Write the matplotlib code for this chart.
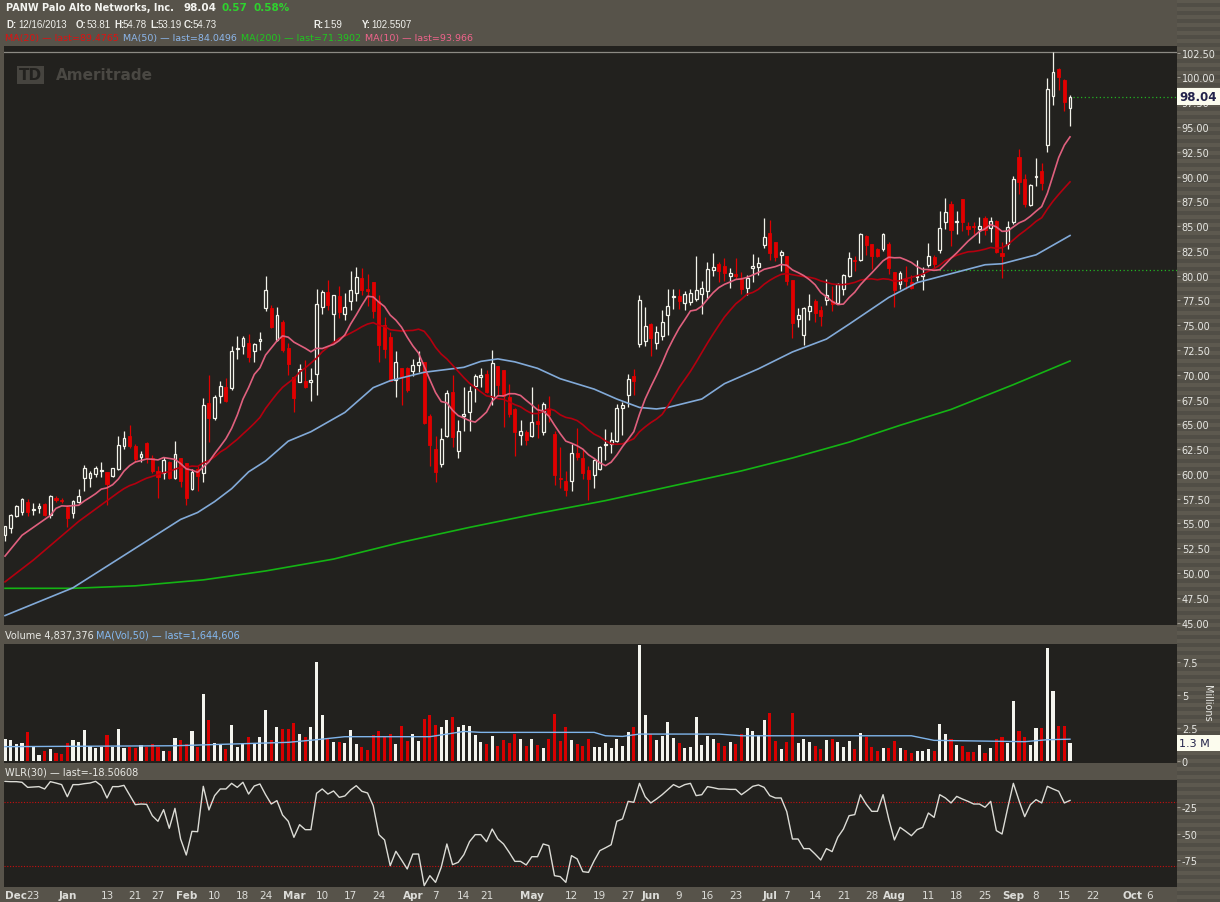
import numpy as np
import pandas as pd
import matplotlib
matplotlib.use('Agg')
import matplotlib.pyplot as plt
from matplotlib.patches import Rectangle

W, H = 1220, 903

# trading sessions (data runs 12/16/2013 .. 9/16/2014, axis continues into October)
holidays = ['2013-12-25', '2014-01-01', '2014-01-20', '2014-02-17', '2014-04-18',
            '2014-05-26', '2014-07-04', '2014-09-01']
sessions = pd.bdate_range('2013-12-16', '2014-10-10')
sessions = sessions[~sessions.isin(pd.to_datetime(holidays))]

opens = [53.81, 54.5, 55.7, 56.2, 57.2, 56.4, 56.55, 57.0, 55.8, 57.55,
         57.4, 56.7, 56.05, 57.2, 59.55, 59.55, 60.0, 60.25, 60.15, 59.75,
         60.5, 62.85, 63.8, 62.8, 61.75, 63.1, 61.55, 60.25, 60.05, 61.15,
         59.6, 61.55, 61.1, 58.45, 60.5, 60.1, 67.15, 65.65, 67.9, 68.75,
         68.65, 72.55, 72.95, 73.25, 72.35, 73.4, 76.7, 76.7, 73.5, 75.3,
         72.65, 69.8, 69.3, 69.35, 69.25, 70.1, 76.8, 78.4, 76.15, 77.9,
         76.15, 77.45, 78.2, 79.75, 78.65, 79.4, 77.45, 75.0, 73.85, 69.5,
         70.7, 70.7, 70.4, 71.0, 71.25, 65.85, 62.5, 60.95, 63.8, 68.25,
         62.3, 65.85, 66.2, 68.9, 69.75, 70.1, 67.8, 70.85, 70.5, 67.8,
         66.55, 63.95, 64.25, 63.85, 65.3, 64.2, 66.55, 64.0, 59.55, 59.25,
         59.3, 62.15, 61.6, 60.4, 59.9, 60.5, 62.9, 63.0, 63.35, 66.6,
         68.0, 69.9, 73.1, 73.45, 75.1, 73.25, 73.9, 76.05, 77.8, 77.9,
         77.2, 77.3, 77.65, 78.15, 78.5, 80.6, 81.2, 81.0, 80.0, 80.15,
         79.65, 78.75, 80.8, 80.85, 83.1, 84.3, 83.35, 82.1, 81.95, 79.55,
         75.65, 74.05, 76.4, 77.4, 76.55, 77.55, 77.45, 77.25, 78.7, 80.0,
         81.6, 81.6, 84.05, 83.2, 82.7, 82.65, 83.2, 80.35, 79.15, 79.7,
         79.35, 79.9, 79.95, 81.1, 81.85, 82.6, 85.45, 87.25, 85.45, 87.75,
         85.05, 85.05, 84.7, 85.8, 84.8, 85.55, 82.25, 83.2, 85.4, 91.95,
         89.8, 87.15, 90.0, 90.55, 93.2, 98.15, 100.9, 99.75, 96.95]
highs = [54.78, 55.95, 56.9, 57.55, 57.45, 57.1, 57.05, 57.1, 57.85, 57.8,
         57.55, 56.85, 57.4, 58.45, 60.9, 60.25, 60.8, 61.15, 60.2, 60.6,
         63.85, 64.3, 64.95, 63.0, 62.3, 63.2, 61.9, 60.75, 61.75, 61.25,
         63.3, 61.6, 61.1, 60.5, 60.8, 67.7, 70.0, 67.95, 69.35, 69.65,
         72.9, 73.9, 73.95, 74.1, 73.25, 74.3, 80.0, 77.05, 76.8, 75.5,
         73.25, 69.9, 71.1, 71.5, 70.7, 78.65, 78.6, 79.55, 78.0, 79.0,
         78.2, 80.5, 80.9, 80.75, 80.15, 79.4, 78.0, 75.8, 74.3, 72.35,
         70.7, 70.8, 71.6, 72.35, 71.3, 66.05, 63.85, 64.6, 68.5, 69.95,
         65.45, 68.8, 68.9, 70.1, 70.65, 70.5, 72.5, 70.9, 70.5, 69.05,
         66.6, 65.45, 64.4, 68.8, 67.0, 67.2, 67.9, 64.35, 62.7, 60.3,
         63.0, 64.6, 62.4, 60.75, 61.5, 62.85, 64.55, 64.2, 67.05, 67.25,
         70.1, 70.6, 78.05, 76.8, 75.2, 74.95, 76.55, 78.7, 78.7, 78.65,
         78.5, 78.7, 81.95, 79.5, 81.35, 82.3, 81.4, 81.75, 80.75, 81.75,
         80.4, 80.05, 82.2, 81.85, 85.8, 85.6, 83.4, 82.55, 82.0, 79.6,
         76.7, 76.8, 78.1, 77.65, 76.95, 79.65, 79.0, 79.25, 80.15, 82.4,
         82.0, 84.35, 84.1, 83.2, 82.75, 84.35, 83.35, 80.35, 80.5, 80.95,
         80.1, 81.6, 80.85, 83.25, 82.1, 86.5, 87.85, 87.5, 86.55, 87.75,
         85.45, 85.45, 85.95, 86.0, 85.9, 85.6, 83.35, 85.5, 90.1, 92.8,
         90.3, 89.25, 91.85, 91.35, 99.9, 102.55, 100.95, 99.8, 98.2]
lows = [53.19, 54.0, 55.6, 55.85, 55.7, 55.8, 56.05, 55.7, 55.5, 57.2,
        57.1, 54.6, 55.55, 57.1, 58.3, 58.65, 59.65, 59.65, 56.9, 59.7,
        60.4, 62.5, 62.6, 61.2, 61.15, 61.05, 60.05, 57.55, 59.5, 59.5,
        59.5, 58.7, 56.9, 58.35, 58.3, 59.2, 63.25, 65.45, 67.1, 67.2,
        68.5, 71.6, 72.1, 71.3, 71.25, 72.45, 76.45, 74.7, 73.45, 72.25,
        70.0, 66.25, 69.25, 68.65, 67.4, 68.0, 76.15, 76.55, 73.3, 75.75,
        75.5, 76.55, 77.45, 78.0, 76.95, 75.7, 71.25, 71.65, 69.4, 67.8,
        66.9, 68.3, 69.85, 70.3, 65.0, 60.75, 59.15, 60.65, 63.7, 62.75,
        61.6, 64.35, 64.35, 67.2, 68.75, 68.15, 66.9, 67.9, 64.7, 65.7,
        61.85, 62.95, 62.9, 63.7, 63.6, 63.95, 65.2, 58.9, 58.55, 57.8,
        58.3, 61.35, 59.5, 57.4, 58.55, 60.4, 61.35, 62.1, 63.25, 63.9,
        66.7, 68.0, 72.85, 72.95, 71.9, 72.55, 73.5, 74.0, 76.65, 76.65,
        76.55, 77.0, 77.45, 76.15, 77.75, 80.0, 79.4, 79.5, 78.8, 79.65,
        78.15, 78.0, 79.4, 80.05, 82.8, 81.6, 81.45, 80.45, 79.1, 73.7,
        74.8, 73.05, 75.55, 75.35, 74.95, 77.05, 76.45, 77.15, 78.0, 79.85,
        80.5, 81.45, 82.1, 80.65, 81.9, 82.45, 80.15, 76.8, 78.65, 78.65,
        78.65, 79.5, 78.6, 80.85, 80.65, 82.3, 84.7, 83.0, 84.2, 84.55,
        84.1, 84.2, 83.25, 84.1, 83.35, 82.3, 79.75, 82.65, 85.2, 88.25,
        86.9, 87.05, 89.0, 88.65, 92.5, 97.25, 98.75, 96.65, 95.15]
closes = [54.73, 55.85, 56.75, 57.45, 56.2, 56.5, 56.8, 55.8, 57.75, 57.35,
          57.25, 55.55, 57.3, 57.8, 60.55, 60.05, 60.6, 60.4, 59.0, 60.55,
          62.9, 63.6, 62.85, 61.45, 62.0, 61.7, 60.3, 59.7, 61.4, 59.6,
          62.05, 59.3, 57.55, 60.15, 59.8, 66.95, 65.65, 67.8, 68.85, 67.4,
          72.4, 72.7, 73.7, 71.8, 73.1, 73.6, 78.55, 74.85, 76.0, 72.5,
          71.1, 67.7, 70.6, 68.75, 69.5, 77.15, 78.3, 77.05, 78.0, 76.35,
          76.85, 78.55, 79.85, 78.6, 78.5, 76.45, 73.05, 72.6, 69.4, 71.25,
          69.75, 68.5, 71.0, 71.3, 65.15, 62.95, 60.15, 63.5, 68.15, 63.75,
          64.3, 66.05, 68.35, 69.85, 69.95, 68.3, 71.15, 69.0, 67.9, 66.05,
          64.25, 64.3, 63.45, 65.2, 65.05, 67.05, 65.95, 59.9, 59.45, 58.4,
          62.15, 61.75, 60.05, 59.5, 61.35, 62.7, 63.0, 63.45, 66.6, 66.95,
          69.55, 69.4, 77.55, 74.95, 73.7, 74.3, 75.3, 76.95, 77.9, 77.4,
          78.1, 78.25, 78.55, 78.8, 80.65, 80.85, 80.5, 80.25, 80.25, 79.95,
          78.7, 79.75, 81.0, 81.3, 83.85, 82.25, 81.85, 82.35, 79.5, 75.2,
          76.05, 76.7, 76.9, 76.2, 75.95, 78.0, 77.15, 79.15, 80.05, 81.75,
          81.45, 84.2, 83.05, 82.0, 82.0, 84.2, 80.75, 78.55, 80.25, 79.5,
          78.8, 80.0, 80.15, 81.95, 81.2, 84.8, 86.4, 84.6, 85.55, 85.4,
          84.75, 84.9, 85.0, 84.65, 85.55, 82.35, 81.95, 84.95, 89.75, 89.4,
          87.25, 89.1, 90.05, 89.35, 98.85, 100.5, 100.0, 97.5, 98.04]

# volume in millions
volumes = [1.65, 1.57, 1.27, 1.35, 2.16, 1.07, 0.43, 0.74, 0.89, 0.58,
           0.51, 1.35, 1.57, 1.42, 2.34, 1.14, 0.99, 1.07, 1.95, 1.07,
           2.41, 0.99, 1.07, 0.99, 1.19, 1.07, 1.27, 1.07, 0.74, 0.74,
           1.73, 1.57, 1.27, 2.26, 1.07, 5.08, 3.10, 1.35, 1.19, 0.89,
           2.72, 1.07, 1.27, 1.80, 1.27, 1.80, 3.86, 1.57, 2.56, 2.41,
           2.41, 2.87, 2.03, 1.80, 2.56, 7.51, 3.48, 1.73, 1.42, 1.42,
           1.35, 2.34, 1.27, 1.04, 0.81, 1.95, 2.26, 1.88, 2.03, 1.27,
           2.64, 1.50, 2.03, 1.50, 3.17, 3.48, 2.72, 2.56, 3.10, 3.32,
           2.56, 2.72, 2.64, 1.95, 1.42, 1.27, 1.88, 1.12, 1.57, 1.35,
           2.03, 1.65, 1.12, 1.65, 1.19, 0.96, 1.65, 3.55, 1.50, 2.56,
           1.57, 1.27, 1.12, 1.65, 1.04, 1.04, 1.35, 0.96, 1.65, 1.12,
           2.18, 2.56, 8.8, 3.48, 2.03, 1.57, 1.88, 2.94, 1.73, 1.35,
           0.96, 1.04, 3.32, 1.19, 1.88, 1.65, 1.35, 1.12, 1.42, 1.27,
           2.03, 2.49, 2.26, 1.95, 3.10, 3.63, 1.50, 0.89, 1.42, 3.63,
           1.35, 1.65, 1.42, 1.12, 0.89, 1.57, 1.65, 1.42, 1.04, 1.50,
           0.89, 2.11, 1.80, 1.04, 0.74, 0.96, 0.96, 1.50, 0.96, 0.81,
           0.58, 0.74, 0.74, 0.89, 0.74, 2.79, 2.03, 1.65, 1.19, 1.12,
           0.66, 0.66, 1.19, 0.58, 0.96, 1.65, 1.80, 1.35, 4.54, 2.26,
           1.80, 1.19, 2.49, 2.49, 8.58, 5.30, 2.64, 2.64, 1.35]

wlr = [-0.5, -0.8, -0.8, -1.4, -6.2, -5.8, -5.5, -7.7, -0.8, -2.1,
       -3.6, -15.0, -3.6, -3.6, -2.7, -2.1, -0.5, -4.6, -16.2, -5.5,
       -5.5, -4.3, -13.4, -22.5, -21.9, -22.2, -32.9, -38.2, -27.2, -44.8,
       -26.0, -54.9, -70.0, -47.7, -48.0, -5.2, -27.5, -14.0, -7.7, -7.7,
       -2.4, -6.2, -1.4, -12.5, -4.9, -3.0, -13.1, -21.9, -18.7, -32.3,
       -38.2, -53.3, -41.4, -46.1, -46.1, -11.8, -7.7, -12.5, -9.6, -15.6,
       -14.3, -8.7, -4.6, -9.9, -11.5, -23.5, -50.8, -55.8, -80.1, -66.5,
       -74.7, -83.2, -69.1, -69.1, -98.9, -89.5, -95.8, -81.6, -59.6, -79.1,
       -76.9, -69.7, -57.4, -50.8, -50.8, -57.4, -45.5, -54.9, -59.6, -67.5,
       -76.0, -76.0, -79.4, -71.6, -71.6, -59.6, -61.2, -89.5, -90.4, -95.8,
       -70.6, -73.7, -85.7, -86.4, -75.4, -65.9, -63.2, -60.3, -38.2, -36.0,
       -19.4, -20.3, -2.4, -15.0, -20.9, -17.2, -13.1, -8.4, -3.6, -6.2,
       -3.6, -2.4, -14.0, -13.1, -5.5, -6.5, -7.7, -7.7, -8.1, -8.1,
       -13.1, -9.3, -5.2, -3.9, -6.2, -14.0, -16.2, -16.2, -29.1, -54.9,
       -54.9, -64.0, -64.0, -69.1, -74.7, -64.0, -66.8, -53.3, -45.5, -32.9,
       -31.9, -13.1, -21.9, -28.8, -28.8, -13.1, -36.0, -55.8, -43.9, -47.7,
       -51.8, -46.1, -43.9, -30.4, -34.5, -13.1, -16.2, -20.9, -14.7, -17.2,
       -19.4, -21.9, -21.9, -25.0, -19.4, -47.0, -50.2, -25.7, -2.4, -18.7,
       -33.8, -22.5, -17.8, -20.9, -5.2, -7.7, -9.9, -20.9, -18.51]

# moving-average lines read off the chart where the visible closes don't cover the window
ma10_warm_idx = [0, 3, 7, 8]
ma10_warm = [51.7, 53.8, 55.4, 55.8]
ma20_warm_idx = [0, 5, 13]
ma20_warm = [49.1, 51.3, 55.2]
ma50_idx = [0, 12, 31, 34, 37, 40, 43, 46, 50, 54, 60, 65, 68, 74, 81, 84, 87, 90, 94,
            98, 104, 108, 112, 115, 117, 123, 127, 133, 139, 145, 149, 156, 161, 167,
            173, 176, 182, 188]
ma50_val = [45.7, 48.5, 55.4, 56.1, 57.2, 58.5, 60.2, 61.3, 63.3, 64.25, 66.2, 68.7, 69.4,
            70.25, 70.75, 71.35, 71.6, 71.3, 70.65, 69.6, 68.55, 67.55, 66.7, 66.55, 66.7,
            67.55, 69.1, 70.6, 72.3, 73.6, 75.1, 77.8, 79.3, 80.2, 81.1, 81.2, 82.1, 84.05]
ma200_idx = [0, 12, 23, 35, 46, 58, 70, 82, 94, 106, 118, 130, 139, 149, 158, 167, 178, 188]
ma200_val = [48.45, 48.45, 48.7, 49.3, 50.2, 51.4, 53.1, 54.6, 56.0, 57.3, 58.8, 60.3,
             61.6, 63.2, 64.9, 66.5, 69.0, 71.39]
volma_idx = [0, 30, 40, 50, 55, 60, 75, 78, 81, 84, 104, 106, 109, 112, 126, 130, 160,
             164, 180, 184, 188]
volma_val = [1.07, 1.14, 1.27, 1.4, 1.6, 1.83, 1.83, 2.03, 2.23, 2.16, 2.16, 1.9, 1.85,
             2.03, 2.03, 1.9, 1.9, 1.55, 1.45, 1.6, 1.64]

tick_dates = ['2013-12-16', '2013-12-23', '2014-01-02', '2014-01-13', '2014-01-21',
              '2014-01-27', '2014-02-03', '2014-02-10', '2014-02-18', '2014-02-24',
              '2014-03-03', '2014-03-10', '2014-03-17', '2014-03-24', '2014-04-01',
              '2014-04-07', '2014-04-14', '2014-04-21', '2014-05-01', '2014-05-12',
              '2014-05-19', '2014-05-27', '2014-06-02', '2014-06-09', '2014-06-16',
              '2014-06-23', '2014-07-01', '2014-07-07', '2014-07-14', '2014-07-21',
              '2014-07-28', '2014-08-01', '2014-08-11', '2014-08-18', '2014-08-25',
              '2014-09-02', '2014-09-08', '2014-09-15', '2014-09-22', '2014-10-01',
              '2014-10-06']
tick_labels = ['Dec', '23', 'Jan', '13', '21', '27', 'Feb', '10', '18', '24', 'Mar', '10',
               '17', '24', 'Apr', '7', '14', '21', 'May', '12', '19', '27', 'Jun', '9',
               '16', '23', 'Jul', '7', '14', '21', '28', 'Aug', '11', '18', '25', 'Sep',
               '8', '15', '22', 'Oct', '6']

n = len(closes)
assert len(opens) == len(highs) == len(lows) == n == len(volumes) == len(wlr)
x = np.arange(n)
o, h, l, c = map(np.array, (opens, highs, lows, closes))
up = c >= o

BG = '#22211e'
PANEL = '#57534a'
UPC = '#f2f2ea'
DNC = '#e00000'
TXT = '#e8e8e4'

# pixel geometry of the panels
L, R = 3.5, 1177
STEP = 5.665
xlim = ((L - 5) / STEP, (R - 5) / STEP)

fig = plt.figure(figsize=(W / 100, H / 100), dpi=100)
fig.patch.set_facecolor(PANEL)

# striped strip behind the price scale
strip = fig.add_axes([R / W, 0, (W - R) / W, 1], zorder=-5)
strip.set_xlim(0, 1)
strip.set_ylim(H, 0)
for y0 in range(0, H, 8):
    strip.axhspan(y0, y0 + 4, color='#5d594f', lw=0)
    strip.axhspan(y0 + 4, y0 + 8, color='#514e46', lw=0)
strip.axis('off')


def add_panel(top, bottom):
    a = fig.add_axes([L / W, 1 - bottom / H, (R - L) / W, (bottom - top) / H])
    a.set_facecolor(BG)
    for s in a.spines.values():
        s.set_visible(False)
    a.set_xlim(*xlim)
    a.yaxis.tick_right()
    a.tick_params(axis='y', colors='#9a968c', labelcolor=TXT, labelsize=7,
                  length=2, width=0.8, pad=1.5)
    a.tick_params(axis='x', length=0, labelbottom=False)
    return a


# ---- price panel ----
ax = add_panel(47, 626)
ax.set_ylim(45 - 2.5 / 9.91, 45 + 576.5 / 9.91)
ax.set_yticks(np.arange(45, 102.6, 2.5))
ax.set_yticklabels(['%.2f' % v for v in np.arange(45, 102.6, 2.5)])

ax.axhline(102.55, color='#8c8a84', lw=0.9, zorder=1)
ax.hlines(80.57, 163, xlim[1], colors='#22b322', linestyles=(0, (1, 2)), lw=0.9, zorder=1)
ax.hlines(98.04, n - 0.5, xlim[1], colors='#22b322', linestyles=(0, (1, 2)), lw=0.9, zorder=1)

ax.vlines(x[up], l[up], h[up], color=UPC, lw=0.9, zorder=2)
ax.vlines(x[~up], l[~up], h[~up], color=DNC, lw=0.9, zorder=2)
body = np.where(np.abs(c - o) < 0.05, 0.05, c - o)
ax.bar(x[up], body[up], bottom=o[up], width=0.5, facecolor=BG, edgecolor=UPC,
       lw=0.9, zorder=3)
ax.bar(x[~up], body[~up], bottom=o[~up], width=0.55, facecolor=DNC, edgecolor=DNC,
       lw=0.6, zorder=3)

cs = pd.Series(closes)
ma10 = cs.rolling(10).mean()
ma20 = cs.rolling(20).mean()
ax.plot(ma200_idx, ma200_val, color='#14b414', lw=1.2, zorder=4)
ax.plot(ma50_idx, ma50_val, color='#82aad8', lw=1.2, zorder=4)
ax.plot(ma20_warm_idx + list(range(19, n)), ma20_warm + list(ma20[19:]),
        color='#b4000f', lw=1.2, zorder=4)
ax.plot(ma10_warm_idx + list(range(9, n)), ma10_warm + list(ma10[9:]),
        color='#e0607e', lw=1.2, zorder=4)

# ---- volume panel ----
av = add_panel(645, 764)
av.set_ylim(-2.3 / 13.12, 116.7 / 13.12)
av.set_yticks([0, 2.5, 5, 7.5])
av.set_yticklabels(['0', '2.5', '5', '7.5'])
v = np.array(volumes)
av.bar(x[up], v[up], width=0.55, color='#f4f4ee', lw=0)
av.bar(x[~up], v[~up], width=0.55, color='#d80000', lw=0)
av.plot(volma_idx, volma_val, color='#7fb4ea', lw=1.0)

# ---- WLR panel ----
aw = add_panel(781, 888)
aw.set_ylim(-25 - 79.7 / 1.06, -25 + 27.3 / 1.06)
aw.set_yticks([-25, -50, -75])
aw.set_yticklabels(['-25', '-50', '-75'])
for lev in (-20, -80):
    aw.axhline(lev, color='#c80f0f', lw=0.8, ls=(0, (1, 1.5)))
aw.plot(x, wlr, color='#dcdcd6', lw=1.0)

tick_pos = [sessions.get_loc(pd.Timestamp(d)) for d in tick_dates]
aw.set_xticks(tick_pos)
aw.set_xticklabels(tick_labels)
aw.tick_params(axis='x', labelbottom=True, labelsize=7.5, labelcolor='#dcdcd8',
               length=0, pad=2.5)
for lab in aw.get_xticklabels():
    if lab.get_text().isalpha():
        lab.set_fontweight('bold')
aw.get_xticklabels()[0].set_horizontalalignment('left')


# ---- text in the header bars ----
def txt(xp, yp, s, color=TXT, size=7, weight='normal', **kw):
    fig.text(xp / W, 1 - yp / H, s, color=color, fontsize=size, fontweight=weight,
             va='center', ha='left', **kw)


GREEN = '#2ed22e'
txt(6, 8, 'PANW Palo Alto Networks, Inc.', size=7, weight='bold', color='#f4f4f0')
txt(183, 8, '98.04', size=7.5, weight='bold', color='#f4f4f0')
txt(221, 8, '0.57', size=7.5, weight='bold', color=GREEN)
txt(253, 8, '0.58%', size=7.5, weight='bold', color=GREEN)

for xp, s, wgt in [(6, 'D:', 'bold'), (18, '12/16/2013', 'normal'), (76, 'O:', 'bold'),
                   (87, '53.81', 'normal'), (114, 'H:', 'bold'), (123, '54.78', 'normal'),
                   (150, 'L:', 'bold'), (158, '53.19', 'normal'), (184, 'C:', 'bold'),
                   (193, '54.73', 'normal'), (313, 'R:', 'bold'), (323, '1.59', 'normal'),
                   (362, 'Y:', 'bold'), (371, '102.5507', 'normal')]:
    txt(xp, 25, s, weight=wgt, color='#f0f0ec', size=7, family='Liberation Sans')

txt(5, 38, 'MA(20) — last=89.4765', color='#e01010', size=6.8)
txt(123, 38, 'MA(50) — last=84.0496', color='#8cb6ea', size=6.8)
txt(241, 38, 'MA(200) — last=71.3902', color='#1ec81e', size=6.8)
txt(365, 38, 'MA(10) — last=93.966', color='#f0648c', size=6.8)

txt(5, 636, 'Volume 4,837,376', size=7)
txt(96, 636, 'MA(Vol,50) — last=1,644,606', color='#84b8f0', size=7)
txt(5, 773, 'WLR(30) — last=-18.50608', size=7)

fig.text(1207 / W, 1 - 703 / H, 'Millions', rotation=-90, fontsize=7, color=TXT,
         va='center', ha='center')

# watermark
txt(19, 76, 'TD', size=11, weight='bold', color=BG,
    bbox=dict(boxstyle='square,pad=0.12', fc='#46443f', ec='none'))
txt(56, 76, 'Ameritrade', size=11, weight='bold', color='#4a4843')

# last-value boxes on the scales
for top, bot, s, wgt, sz in [(89, 106, '98.04', 'bold', 8.5), (736, 752, '1.3 M', 'normal', 8)]:
    fig.add_artist(Rectangle((R / W, 1 - bot / H), (W - R) / W, (bot - top) / H,
                             transform=fig.transFigure, fc='#fcfcee', ec='none', zorder=5))
    fig.text(1179 / W, 1 - (top + bot) / 2 / H, s, color='#23234a', fontsize=sz,
             fontweight=wgt, va='center', ha='left', zorder=6)

fig.savefig('out.png', dpi=100, facecolor=fig.get_facecolor())
